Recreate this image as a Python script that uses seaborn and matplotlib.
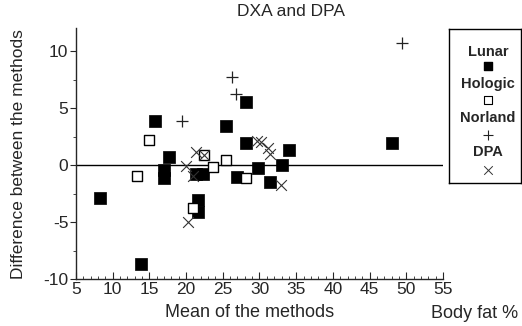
import numpy as np
import pandas as pd
import matplotlib
matplotlib.use("Agg")
import matplotlib.pyplot as plt
from matplotlib.ticker import MultipleLocator
import seaborn as sns

# %%
# values
lunar_x = [8.3, 13.8, 15.8, 17.0, 17.0, 17.7, 21.4, 22.3, 21.6, 21.6, 25.4, 26.9, 28.1, 28.1, 29.8, 31.5, 33.0, 34.0, 48.0]
lunar_y = [-2.9, -8.7, 3.85, -0.4, -1.1, 0.67, -0.75, -0.75, -3.05, -4.15, 3.45, -1.05, 5.55, 1.95, -0.25, -1.45, 0.0, 1.3, 1.9]
hologic_x = [13.3, 14.9, 20.9, 22.4, 23.6, 25.4, 28.2]
hologic_y = [-1.0, 2.2, -3.8, 0.85, -0.2, 0.45, -1.15]
norland_x = [19.5, 26.2, 26.75, 49.4]
norland_y = [3.85, 7.75, 6.2, 10.75]
dpa_x = [20.0, 21.0, 20.3, 21.4, 22.4, 29.6, 30.2, 31.1, 31.5, 32.9]
dpa_y = [-0.05, -1.0, -5.0, 1.15, 0.85, 2.1, 2.05, 1.5, 0.95, -1.75]

methods = ['Lunar', 'Hologic', 'Norland', 'DPA']
xlim = (5, 55)
ylim = (-10, 12)

# %%
sns.set_style('ticks')
plt.rcParams['font.family'] = ['Liberation Sans', 'DejaVu Sans']
plt.rcParams['axes.unicode_minus'] = False

data = pd.concat([
    pd.DataFrame({'x': lunar_x, 'y': lunar_y, 'method': 'Lunar'}),
    pd.DataFrame({'x': hologic_x, 'y': hologic_y, 'method': 'Hologic'}),
    pd.DataFrame({'x': norland_x, 'y': norland_y, 'method': 'Norland'}),
    pd.DataFrame({'x': dpa_x, 'y': dpa_y, 'method': 'DPA'}),
])

styles = {
    'Lunar': dict(marker='s', color='black', s=72, edgecolor='black', linewidth=0.5),
    'Hologic': dict(marker='s', facecolor='white', edgecolor='black', s=62, linewidth=1.0),
    'Norland': dict(marker='+', color='#222222', s=85, linewidth=0.9),
    'DPA': dict(marker='x', color='#333333', s=60, linewidth=0.8),
}

fig = plt.figure(figsize=(5.22, 3.26), dpi=100)
ax = fig.add_axes([0.1456, 0.144, 0.703, 0.769])

ax.plot([xlim[0], xlim[1]], [0, 0], color='black', lw=1.0, zorder=1)
for m in methods:
    sub = data[data['method'] == m]
    sns.scatterplot(x=sub['x'], y=sub['y'], ax=ax, zorder=3, legend=False, **styles[m])

ax.set_xlim(*xlim)
ax.set_ylim(*ylim)
ax.xaxis.set_major_locator(MultipleLocator(5))
ax.xaxis.set_minor_locator(MultipleLocator(1))
ax.yaxis.set_major_locator(MultipleLocator(5))
ax.yaxis.set_minor_locator(MultipleLocator(2.5))
ax.set_yticks([-10, -5, 0, 5, 10])
ax.tick_params(axis='x', which='major', direction='in', length=5, width=0.8, labelsize=12.5, pad=2)
ax.tick_params(axis='x', which='minor', direction='in', length=2.5, width=0.6)
ax.tick_params(axis='y', which='major', direction='out', length=4.5, width=0.8, labelsize=12.5, pad=1)
ax.tick_params(axis='y', which='minor', direction='out', length=2.5, width=0.6)
sns.despine(ax=ax)
for sp in ['left', 'bottom']:
    ax.spines[sp].set_linewidth(1.0)

ax.set_xlabel('Mean of the methods', fontsize=13)
ax.xaxis.set_label_coords(0.474, -0.1)
ax.set_ylabel('Difference between the methods', fontsize=12.5)
ax.yaxis.set_label_coords(-0.135, 0.5)
fig.text(518 / 522, 1 - 314 / 326, 'Body fat %', ha='right', va='center', fontsize=13)
fig.text(291 / 522, 1 - 12 / 326, 'DXA and DPA', ha='center', va='center', fontsize=12.5)

# legend box: label above key
lg = fig.add_axes([449 / 522, 1 - 183 / 326, 72 / 522, 154 / 326])
lg.set_xlim(0, 1)
lg.set_ylim(183, 29)
lg.set_xticks([])
lg.set_yticks([])
for sp in lg.spines.values():
    sp.set_visible(True)
    sp.set_linewidth(1.0)
    sp.set_color('black')
label_y = [52, 84, 118, 152]
key_y = [66, 100, 135, 170]
key_styles = {
    'Lunar': dict(marker='s', color='black', s=32),
    'Hologic': dict(marker='s', facecolor='white', edgecolor='black', s=32, linewidth=0.8),
    'Norland': dict(marker='+', color='#222222', s=45, linewidth=0.8),
    'DPA': dict(marker='x', color='#333333', s=38, linewidth=0.7),
}
for m, ty, ky in zip(methods, label_y, key_y):
    lg.text(0.54, ty, m, ha='center', va='center', fontsize=10.5, fontweight='bold')
    lg.scatter([0.54], [ky], **key_styles[m])

fig.savefig('out.png', dpi=100)
